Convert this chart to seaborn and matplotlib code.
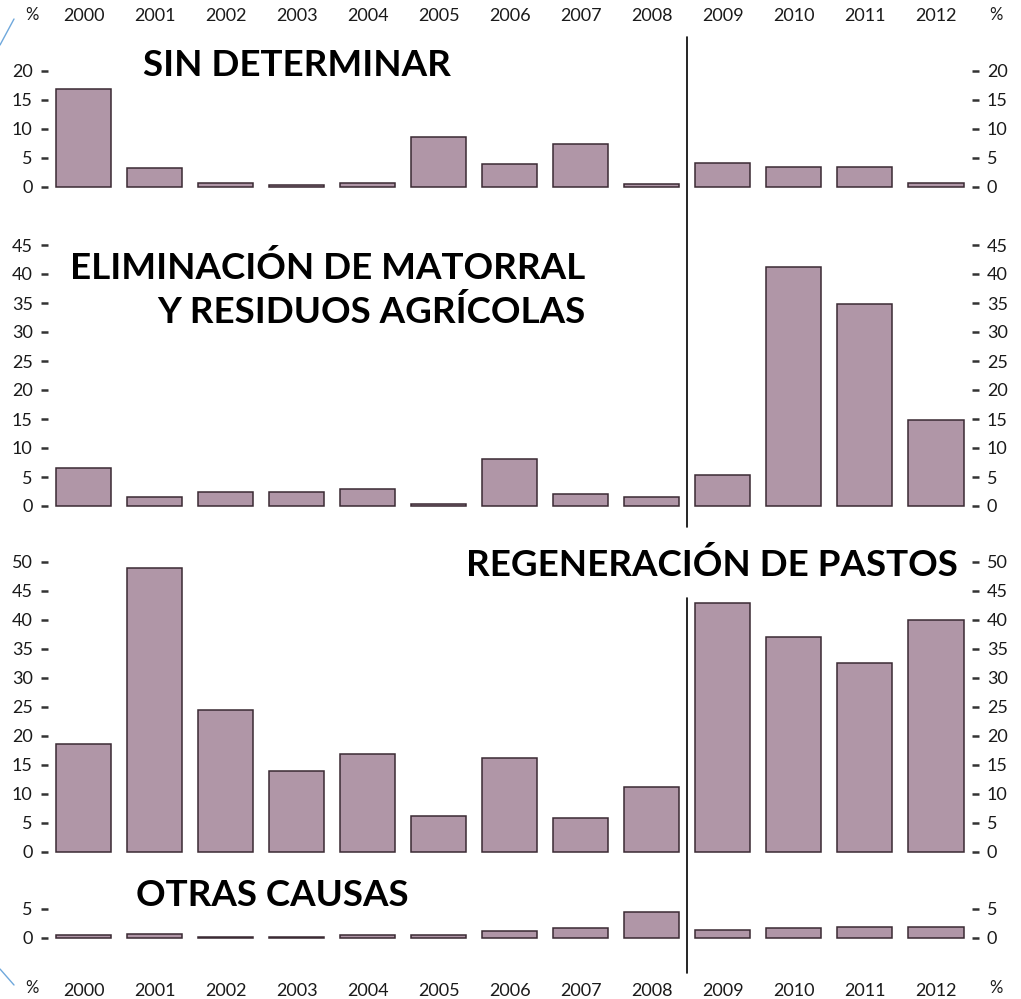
import matplotlib
matplotlib.use("Agg")
import matplotlib.pyplot as plt
from matplotlib.lines import Line2D
from matplotlib import transforms
import seaborn as sns
import pandas as pd

# Causes of fires (%) by year
years = ["2000", "2001", "2002", "2003", "2004", "2005", "2006",
         "2007", "2008", "2009", "2010", "2011", "2012"]
sin_determinar = [16.8, 3.2, 0.6, 0.3, 0.6, 8.5, 3.9, 7.3, 0.4, 4.1, 3.4, 3.4, 0.6]
eliminacion = [6.5, 1.5, 2.5, 2.5, 3.0, 0.3, 8.1, 2.0, 1.5, 5.3, 41.2, 34.8, 14.8]
regeneracion = [18.5, 48.9, 24.5, 14.0, 16.9, 6.2, 16.2, 5.8, 11.1, 42.9, 37.0, 32.5, 40.0]
otras = [0.4, 0.7, 0.2, 0.2, 0.4, 0.4, 1.1, 1.7, 4.4, 1.3, 1.7, 1.9, 1.9]

titles = ["SIN DETERMINAR", "ELIMINACIÓN DE MATORRAL\nY RESIDUOS AGRÍCOLAS",
          "REGENERACIÓN DE PASTOS", "OTRAS CAUSAS"]

sns.set_style("white")
plt.rcParams["font.family"] = ["Lato", "DejaVu Sans"]

W, H = 1021, 999
fig = plt.figure(figsize=(W / 100, H / 100), dpi=100)

LEFT, RIGHT = 48.0, 971.5
SCALE = 5.8  # pixels per percentage point

BAR = "#B096A7"
EDGE = "#3A2A33"
TXT = "#1A1A1A"
LABEL_SIZE = 13


def add_panel(zero_px, ylo, yhi):
    top = zero_px - yhi * SCALE
    bot = zero_px - ylo * SCALE
    ax = fig.add_axes([LEFT / W, 1 - bot / H, (RIGHT - LEFT) / W, (bot - top) / H])
    ax.set_ylim(ylo, yhi)
    return ax


panels = [
    (sin_determinar, 186.8, 26, list(range(0, 21, 5))),
    (eliminacion, 506.0, 47, list(range(0, 46, 5))),
    (regeneracion, 851.7, 52, list(range(0, 51, 5))),
    (otras, 937.8, 7, [0, 5]),
]

axes = []
for vals, zero, ytop, ticks in panels:
    ax = add_panel(zero, -0.45, ytop)
    df = pd.DataFrame({"year": years, "pct": vals})
    sns.barplot(data=df, x="year", y="pct", ax=ax, color=BAR, saturation=1,
                width=0.775, edgecolor=EDGE, linewidth=1.1)
    ax.set_xlim(-0.5, len(years) - 0.5)
    ax.set_ylim(-0.45, ytop)
    ax.set_yticks(ticks)
    ax.set_xlabel("")
    ax.set_ylabel("")
    for s in ax.spines.values():
        s.set_visible(False)
    ax.tick_params(axis="y", left=True, right=True, labelleft=True, labelright=True,
                   direction="out", length=5, width=1.8, color="#333333",
                   labelsize=LABEL_SIZE, labelcolor=TXT, pad=6)
    ax.tick_params(axis="x", bottom=False, top=False, labelbottom=False, labeltop=False)
    axes.append(ax)

# year labels above the first panel and below the last one
axes[0].tick_params(axis="x", labeltop=True, labelsize=LABEL_SIZE, labelcolor=TXT, pad=5)
axes[3].tick_params(axis="x", labelbottom=True, labelsize=LABEL_SIZE, labelcolor=TXT, pad=27)

# percent markers at the ends of both year rows
for yy in (15, 988):
    for xx in (32, 996):
        fig.text(xx / W, 1 - yy / H, "%", ha="center", va="center",
                 fontsize=12, color=TXT)

# panel titles
title_kw = dict(fontweight="bold", color="black", fontsize=26.5)
fig.text(297 / W, 1 - 65 / H, titles[0], ha="center", va="center", **title_kw)
fig.text(585 / W, 1 - 290 / H, titles[1], ha="right", va="center",
         multialignment="right", linespacing=1.35, **title_kw)
fig.text(712 / W, 1 - 565 / H, titles[2], ha="center", va="center", **title_kw)
fig.text(272 / W, 1 - 895 / H, titles[3], ha="center", va="center", **title_kw)

# divider between 2008 and 2009
tr = transforms.blended_transform_factory(axes[0].transData, fig.transFigure)
for y0, y1 in ((37, 527), (598, 973)):
    fig.add_artist(Line2D([8.5, 8.5], [1 - y0 / H, 1 - y1 / H], transform=tr,
                          color="black", linewidth=1.2))

# thin blue corner strokes
fig.add_artist(Line2D([0 / W, 14 / W], [1 - 45 / H, 1 - 19 / H],
                      transform=fig.transFigure, color="#6FA8DC", linewidth=1))
fig.add_artist(Line2D([0 / W, 14 / W], [1 - 969 / H, 1 - 985 / H],
                      transform=fig.transFigure, color="#6FA8DC", linewidth=1))

fig.savefig("out.png", dpi=100, facecolor="white")
